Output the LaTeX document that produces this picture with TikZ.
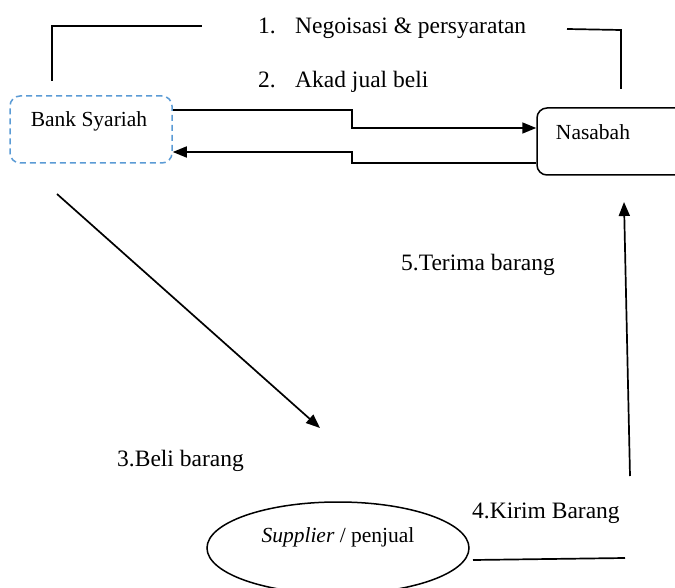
\documentclass[tikz,border=0pt]{standalone}
\usepackage{fontspec}
\setmainfont{Liberation Serif}
\usetikzlibrary{arrows.meta,shapes.geometric}
\definecolor{wordblue}{RGB}{91,155,213}

\tikzset{
  lbl/.style={font=\fontsize{23.5}{28}\selectfont, inner sep=0pt, anchor=west},
  boxtext/.style={font=\fontsize{21.5}{26}\selectfont, inner sep=0pt},
  line/.style={line width=1.7pt},
  arr/.style={line width=1.7pt, -{Triangle[length=14pt,width=11pt]}},
}

\begin{document}
\begin{tikzpicture}[x=1pt,y=-1pt]
      \useasboundingbox (0,0) rectangle (675,588);

      \node [draw=wordblue, dashed, dash pattern=on 6pt off 4pt, line width=1.5pt,
             rounded corners=10pt, minimum width=162pt, minimum height=67pt] (bank) at (91,129.5) {};
      \node [boxtext] (banktext) at (89,121) {Bank Syariah};

      \node [draw, line width=1.5pt, rounded corners=10pt,
             minimum width=170pt, minimum height=67pt] (nasabah) at (622,141.5) {};
      \node [boxtext] (nasabahtext) at (593,132) {Nasabah};

      \node [draw, ellipse, line width=1.5pt, minimum width=262pt, minimum height=92pt] (supplier) at (338,548) {};
      \node [boxtext] (suppliertext) at (338,537) {\textit{Supplier} / penjual};

      \node [lbl] (l1) at (258,28) {\makebox[37pt][l]{1.}Negoisasi \& persyaratan};
      \node [lbl] (l2) at (258,82) {\makebox[37pt][l]{2.}Akad jual beli};
      \node [lbl] (l3) at (117,461) {3.Beli barang};
      \node [lbl] (l4) at (472,513) {4.Kirim Barang};
      \node [lbl] (l5) at (401,265) {5.Terima barang};

      \coordinate (tl1) at (52,81);
      \coordinate (tl2) at (202,26);
      \coordinate (tr1) at (567,29);
      \coordinate (tr2) at (621,89);
      \coordinate (beli1) at (57,194);
      \coordinate (beli2) at (320,428);
      \coordinate (kirim1) at (473,560);
      \coordinate (kirim2) at (625,558);
      \coordinate (terima1) at (630,476);
      \coordinate (terima2) at (624,202);

      \draw [line] (tl1) |- (tl2);
      \draw [line] (tr1) -- (621,30) -- (tr2);

      \draw [arr] (bank.east |- 0,110) -- (352,110) -- (352,128) -- (nasabah.west |- 0,128);
      \draw [arr] (nasabah.west |- 0,163) -- (352,163) -- (352,152) -- (bank.east |- 0,152);

      \draw [arr] (beli1) -- (beli2);
      \draw [line] (kirim1) -- (kirim2);
      \draw [arr] (terima1) -- (terima2);
\end{tikzpicture}
\end{document}
